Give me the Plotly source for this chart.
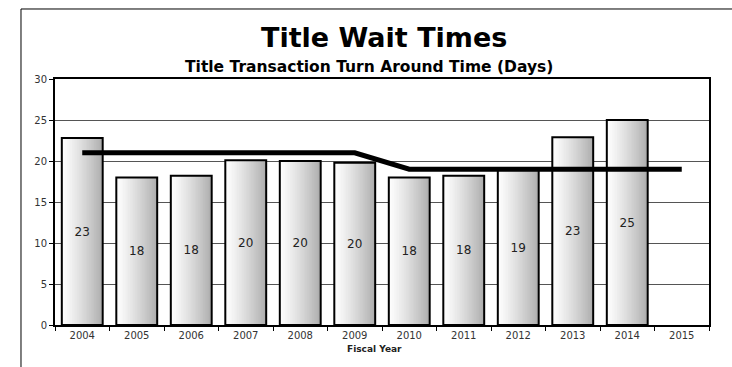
import plotly.graph_objects as go

# Fiscal years and average title turnaround time (days)
years = ["2004", "2005", "2006", "2007", "2008", "2009",
         "2010", "2011", "2012", "2013", "2014", "2015"]
turnaround_days = [22.8, 18.0, 18.2, 20.1, 20.0, 19.8,
                   18.0, 18.2, 18.9, 22.9, 25.0, None]
# Target turnaround time (days)
target_days = [21, 21, 21, 21, 21, 21, 19, 19, 19, 19, 19, 19]

main_title = "Title Wait Times"
sub_title = "Title Transaction Turn Around Time (Days)"
x_title = "Fiscal Year"

FONT = "DejaVu Sans"
BAR_W = 0.75
N_STRIPS = 24

fig = go.Figure()

# Horizontal white-to-grey shading: each strip starts further right and is
# drawn over the previous one, so only its own slice stays visible.
step = BAR_W / N_STRIPS
for i in range(N_STRIPS):
    t = i / (N_STRIPS - 1)
    g = int(round(253 - 78 * t ** 1.2))
    fig.add_trace(go.Bar(
        x=years, y=turnaround_days,
        width=[BAR_W - i * step] * len(years),
        offset=[-BAR_W / 2 + i * step] * len(years),
        marker=dict(color=f"rgb({g},{g},{g})", line=dict(width=0)),
        hoverinfo="skip", showlegend=False,
    ))

# Bar outlines with the rounded value in the middle of each bar
fig.add_trace(go.Bar(
    x=years, y=turnaround_days,
    width=[BAR_W] * len(years),
    offset=[-BAR_W / 2] * len(years),
    marker=dict(color="rgba(0,0,0,0)", line=dict(color="black", width=2)),
    texttemplate="%{y:.0f}", textposition="inside", insidetextanchor="middle",
    textfont=dict(family=FONT, size=12, color="#222222"),
    hoverinfo="skip", showlegend=False,
))

# Target line
fig.add_trace(go.Scatter(
    x=years, y=target_days, mode="lines",
    line=dict(color="black", width=5),
    hoverinfo="skip", showlegend=False,
))

fig.update_layout(
    width=732, height=367,
    margin=dict(l=55, r=23, t=79, b=42),
    paper_bgcolor="white", plot_bgcolor="white",
    barmode="overlay", bargap=0.25,
    showlegend=False,
    font=dict(family=FONT, size=10, color="#333333"),
    xaxis=dict(
        type="category", range=[-0.5, 11.5],
        tickson="boundaries", ticks="outside", ticklen=4, tickcolor="black",
        showline=True, linecolor="black", linewidth=2, mirror=True,
        showgrid=False,
        tickfont=dict(family=FONT, size=10, color="#333333"),
    ),
    yaxis=dict(
        range=[0, 30], dtick=5, tick0=0,
        ticks="outside", ticklen=4, tickcolor="black",
        showline=True, linecolor="black", linewidth=2, mirror=True,
        showgrid=True, gridcolor="#555555", gridwidth=1,
        zeroline=False,
        tickfont=dict(family=FONT, size=10, color="#333333"),
    ),
    annotations=[
        dict(text=f"<b>{main_title}</b>", xref="paper", yref="paper",
             x=0.503, y=1.1707, xanchor="center", yanchor="middle",
             showarrow=False, font=dict(family=FONT, size=27, color="black")),
        dict(text=f"<b>{sub_title}</b>", xref="paper", yref="paper",
             x=0.480, y=1.0488, xanchor="center", yanchor="middle",
             showarrow=False, font=dict(family=FONT, size=15.5, color="black")),
        dict(text=f"<b>{x_title}</b>", xref="paper", yref="paper",
             x=0.489, y=-0.0976, xanchor="center", yanchor="middle",
             showarrow=False, font=dict(family=FONT, size=9, color="#222222")),
    ],
    shapes=[
        # outer chart frame: top and left edges (the rest runs off the page)
        dict(type="line", xref="paper", yref="paper",
             x0=-0.052, x1=1.04, y0=1.2846, y1=1.2846,
             line=dict(color="black", width=1)),
        dict(type="line", xref="paper", yref="paper",
             x0=-0.052, x1=-0.052, y0=-0.2, y1=1.2846,
             line=dict(color="black", width=1)),
    ],
)

fig.write_html("out.html", config={"displayModeBar": False})
